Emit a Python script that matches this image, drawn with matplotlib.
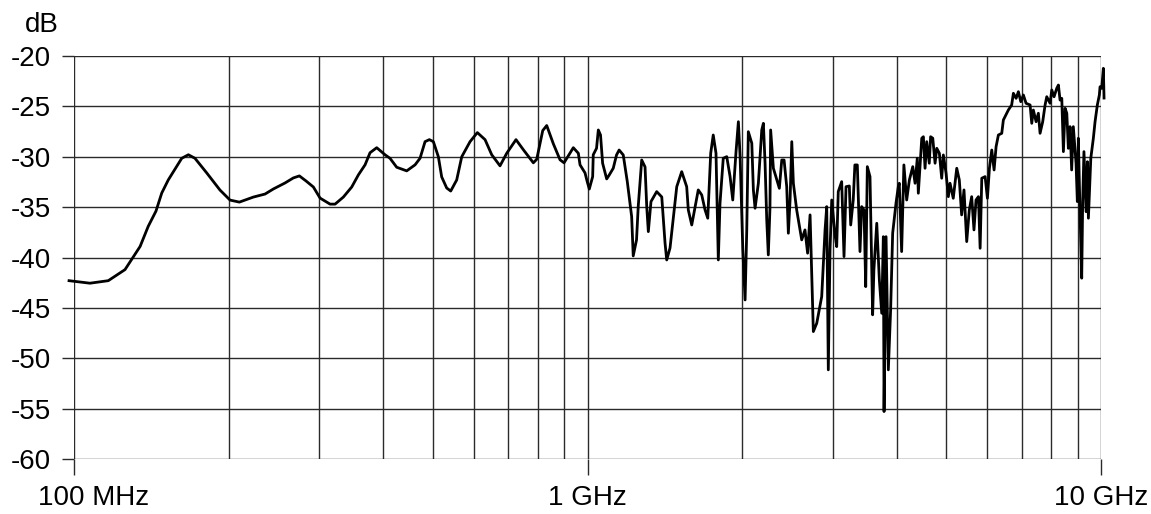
import matplotlib
matplotlib.use("Agg")
import matplotlib.pyplot as plt
from matplotlib import font_manager
from matplotlib.transforms import ScaledTranslation
from matplotlib.ticker import FixedLocator, NullFormatter

# measured curve, frequency in MHz and level in dB
freq_mhz = [
    97.8, 107.4, 116.6, 125.7, 134.5, 139.5, 144.4, 148.2, 152.6, 162.1,
    167, 172, 181.3, 192.4, 201.3, 209.9, 223.5, 235.5, 244.4, 257.6,
    267.4, 274.7, 283, 292.5, 301.4, 315.2, 322.4, 334.6, 347.4, 357.9,
    368.8, 377.1, 388.6, 403.3, 412.4, 425, 444.5, 461.5, 471.9, 482.6,
    492, 501, 512.3, 520, 531.8, 541.5, 556.2, 568.9, 590.5, 610.1,
    631.6, 650.8, 675.4, 696.1, 725.6, 749.9, 784.3, 796.3, 818, 832.8,
    857.7, 884, 900, 938.2, 959.6, 966.9, 988.8, 999, 1008,
    1023.3, 1026, 1041.2, 1049.6, 1060, 1070, 1089.7, 1102.5, 1122.2, 1138.9,
    1152.2, 1173.7, 1195.2, 1218.8, 1227.4, 1245.7, 1255.2, 1275, 1294.2, 1304.1,
    1313.4, 1329.1, 1363.6, 1395, 1415.7, 1426.3, 1447.6, 1491.9, 1525.5, 1559.9,
    1571.3, 1595.7, 1643, 1668.8, 1693.9, 1714.5, 1737.3, 1757.1, 1779, 1797.6,
    1811.3, 1837.9, 1866.8, 1894.9, 1917.9, 1946.2, 1966.8, 1982.1, 2006.3, 2026.9,
    2042.1, 2056.4, 2088.8, 2103.6, 2119.7, 2151.2, 2184.2, 2200, 2216.8, 2233.5,
    2249.3, 2266, 2273, 2301, 2363.4, 2389.2, 2414, 2442.9, 2460.8, 2479.8,
    2498.9, 2516.8, 2554.6, 2612.8, 2651.3, 2682.7, 2712.4, 2732.3, 2752.6, 2795,
    2857.7, 2901, 2922.9, 2943.6, 2966.4, 2989.2, 3033.6, 3056.4, 3078, 3125.5,
    3158.4, 3187.1, 3234.4, 3254.5, 3291.8, 3316.1, 3352.6, 3392.8, 3418.5, 3454.5,
    3481.2, 3506.3, 3548.6, 3590.9, 3611.3, 3657.9, 3700.6, 3740.4, 3767.6, 3779.6,
    3813.6, 3852.8, 3892.5, 3928.3, 3987.5, 4028.7, 4046.6, 4089.6, 4131, 4183.2,
    4234, 4299, 4343.4, 4387.1, 4407.3, 4475.8, 4508.1, 4542.3, 4576.6, 4629,
    4657.2, 4702, 4751, 4787.3, 4843.4, 4894.7, 4930.6, 4991, 5042.6, 5080.6,
    5154.6, 5236, 5296.5, 5352.2, 5408.8, 5475.4, 5539.4, 5598.6, 5656.5, 5708.4,
    5770.8, 5814.6, 5858.1, 5946.2, 6008.1, 6061.8, 6126.3, 6190.4, 6245.9, 6310.9,
    6406.8, 6453.4, 6552.4, 6599, 6698, 6750, 6832.7, 6903, 6978, 7059.6,
    7144.3, 7274.9, 7329.6, 7382.4, 7473, 7550, 7607.5, 7698.2, 7780.8, 7839.3,
    7957, 8017.9, 8100.4, 8198.8, 8259, 8321, 8385.8, 8446.7, 8511.4, 8576,
    8637, 8701.8, 8766, 8830.7, 8939.5, 8992, 9032.3, 9100.8, 9169.4, 9209.7,
    9262, 9351, 9406.4, 9449, 9551, 9661, 9735, 9835, 9924, 9955,
    10031, 10104, 10135,
]
level_db = [
    -42.3, -42.55, -42.3, -41.2, -38.9, -36.9, -35.4, -33.6, -32.3, -30.15,
    -29.8, -30.15, -31.6, -33.3, -34.3, -34.5, -34.0, -33.7, -33.2, -32.6,
    -32.1, -31.9, -32.4, -33.0, -34.1, -34.7, -34.7, -34.0, -33.0, -31.8,
    -30.8, -29.6, -29.1, -29.8, -30.15, -31.04, -31.4, -30.8, -30.15, -28.5,
    -28.3, -28.5, -30.0, -32.0, -33.1, -33.4, -32.3, -30.0, -28.5, -27.6,
    -28.3, -29.8, -30.9, -29.65, -28.3, -29.3, -30.6, -30.25, -27.4, -26.9,
    -28.7, -30.3, -30.6, -29.1, -29.65, -30.8, -31.6, -32.5, -33.2,
    -31.97, -29.8, -29.16, -27.34, -27.84, -30.64, -32.2, -31.8, -31.14, -29.82,
    -29.33, -29.82, -32.47, -35.94, -39.84, -38.25, -34.95, -30.32, -31.01, -34.95,
    -37.43, -34.45, -33.46, -33.99, -38.58, -40.24, -39.05, -32.97, -31.48, -32.97,
    -35.28, -36.77, -33.29, -33.79, -35.28, -36.1, -29.65, -27.84, -29.65, -40.24,
    -34.61, -30.15, -29.99, -31.97, -34.29, -29.49, -26.52, -29.99, -39.25, -44.21,
    -37.26, -27.51, -28.66, -33.29, -35.11, -32.63, -27.34, -26.68, -30.64, -36.27,
    -39.74, -35.11, -27.34, -31.14, -33.13, -30.32, -30.32, -32.97, -37.59, -34.29,
    -28.5, -32.63, -35.28, -38.25, -37.26, -39.57, -35.77, -41.56, -47.35, -46.52,
    -43.88, -37.26, -34.95, -51.15, -39.25, -34.29, -37.76, -38.92, -33.46, -32.47,
    -39.91, -32.97, -32.9, -36.77, -34.29, -30.81, -30.81, -39.41, -34.95, -35.28,
    -42.89, -30.98, -31.97, -45.69, -41.23, -36.6, -42.22, -45.53, -37.93, -55.29,
    -37.93, -51.15, -45.2, -37.59, -34.61, -32.97, -32.63, -39.41, -30.81, -34.29,
    -32.3, -30.98, -32.63, -30.15, -33.62, -28.16, -28.01, -31.14, -28.5, -30.64,
    -28.01, -28.16, -30.64, -29.16, -29.65, -32.13, -29.82, -31.64, -33.96, -32.63,
    -34.12, -31.14, -32.3, -35.77, -33.29, -38.42, -35.28, -33.96, -37.26, -34.29,
    -33.96, -39.08, -32.13, -31.97, -34.12, -31.14, -29.33, -31.31, -29.0, -27.84,
    -27.67, -26.35, -25.68, -25.36, -24.86, -23.7, -24.2, -23.54, -24.53, -23.87,
    -24.69, -24.86, -26.68, -25.36, -26.52, -25.68, -27.67, -26.52, -24.86, -24.04,
    -24.69, -23.37, -24.04, -23.2, -22.88, -24.37, -24.2, -29.49, -25.19, -25.68,
    -29.16, -27.01, -31.31, -27.01, -30.64, -34.45, -28.16, -35.6, -42.05, -34.45,
    -29.49, -35.45, -30.49, -36.1, -30.15, -28.16, -26.52, -24.86, -23.87, -23.05,
    -23.2, -21.22, -24.17,
]

x_major = [100, 1000, 10000]
x_labels = ["100 MHz", "1 GHz", "10 GHz"]
x_minor = [m * d for d in (100, 1000) for m in range(2, 10)]
y_ticks = list(range(-60, -15, 5))

names = {f.name for f in font_manager.fontManager.ttflist}
fam = "Liberation Sans Narrow" if "Liberation Sans Narrow" in names else "Liberation Sans"
plt.rcParams["font.family"] = [fam, "DejaVu Sans"]

fig = plt.figure(figsize=(11.51, 5.14), dpi=100)
ax = fig.add_axes([0.0643, 0.1070, 0.8923, 0.7840])

ax.plot(freq_mhz, level_db, color="black", lw=2.0, clip_on=False, zorder=3)

ax.set_xscale("log")
ax.set_xlim(100, 10000)
ax.set_ylim(-60, -20)

ax.xaxis.set_major_locator(FixedLocator(x_major))
ax.xaxis.set_minor_locator(FixedLocator(x_minor))
ax.xaxis.set_minor_formatter(NullFormatter())
ax.set_xticklabels(x_labels)
ax.set_yticks(y_ticks)
ax.set_yticklabels([str(v) for v in y_ticks])

gc = "#2a2a2a"
ax.grid(True, which="both", axis="x", color=gc, lw=1.0)
ax.grid(True, which="major", axis="y", color=gc, lw=1.0)
for s in ax.spines.values():
    s.set_visible(False)

ax.tick_params(axis="y", which="major", length=8.6, width=1.0, color=gc,
               pad=8, labelsize=20)
ax.tick_params(axis="x", which="major", length=11.5, width=1.0, color=gc,
               pad=7.5, labelsize=20)
ax.tick_params(axis="x", which="minor", length=0)

first = ax.get_xticklabels()[0]
first.set_transform(first.get_transform() + ScaledTranslation(0.20, 0, fig.dpi_scale_trans))

fig.text(25 / 1151, 1 - 32 / 514, "dB", fontsize=20, ha="left", va="baseline")

fig.savefig("out.png", dpi=100)
